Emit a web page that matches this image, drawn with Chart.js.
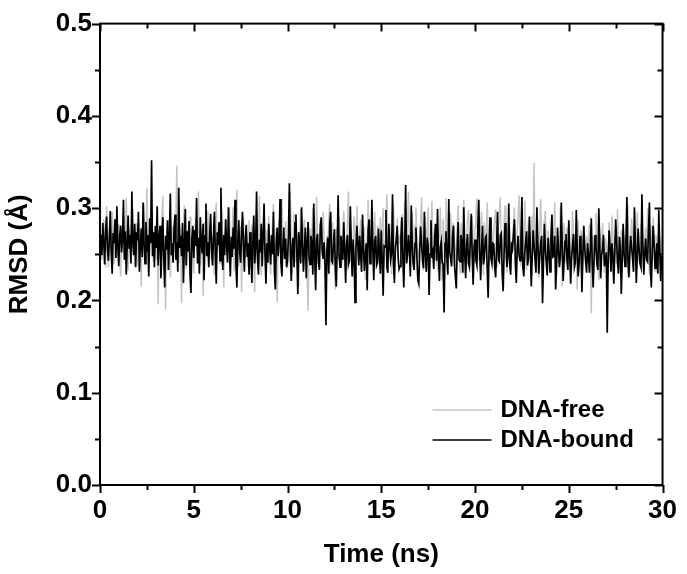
<!DOCTYPE html>
<html>
<head>
<meta charset="utf-8">
<script src="https://cdn.jsdelivr.net/npm/chart.js@4.4.1/dist/chart.umd.min.js"></script>
<style>
  body { margin: 0; background: #fff; }
  #wrap { width: 687px; height: 574px; }
</style>
</head>
<body>
<div id="wrap"><canvas id="myChart"></canvas></div>
<script>
// RMSD traces, one value every 0.05 ns (one row = 1 ns)
const timeStep = 0.05;

const dnaFree = [
  0.270,0.252,0.244,0.279,0.288,0.259,0.236,0.302,0.266,0.236,0.279,0.258,0.251,0.296,0.272,0.240,0.262,0.283,0.249,0.268,
  0.283,0.245,0.226,0.267,0.281,0.292,0.248,0.260,0.311,0.257,0.232,0.269,0.275,0.246,0.257,0.299,0.271,0.238,0.263,0.284,
  0.238,0.262,0.284,0.249,0.215,0.270,0.288,0.305,0.246,0.259,0.322,0.264,0.229,0.251,0.263,0.290,0.276,0.242,0.268,0.257,
  0.244,0.271,0.196,0.262,0.279,0.253,0.289,0.313,0.232,0.255,0.190,0.268,0.277,0.287,0.245,0.225,0.262,0.280,0.251,0.270,
  0.262,0.296,0.346,0.259,0.240,0.281,0.265,0.197,0.266,0.284,0.303,0.248,0.234,0.276,0.269,0.252,0.291,0.238,0.272,0.260,
  0.229,0.266,0.289,0.258,0.271,0.318,0.249,0.238,0.274,0.262,0.205,0.285,0.276,0.249,0.258,0.297,0.265,0.243,0.281,0.256,
  0.270,0.246,0.227,0.283,0.306,0.251,0.262,0.282,0.240,0.271,0.297,0.255,0.214,0.265,0.279,0.288,0.249,0.262,0.301,0.244,
  0.244,0.275,0.301,0.232,0.258,0.273,0.320,0.253,0.237,0.262,0.281,0.209,0.268,0.290,0.253,0.246,0.277,0.262,0.236,0.287,
  0.235,0.271,0.282,0.260,0.243,0.209,0.266,0.296,0.246,0.258,0.313,0.262,0.227,0.250,0.271,0.284,0.250,0.241,0.276,0.263,
  0.292,0.255,0.228,0.262,0.283,0.305,0.243,0.252,0.277,0.198,0.264,0.286,0.255,0.240,0.310,0.271,0.249,0.262,0.286,0.238,
  0.236,0.264,0.281,0.318,0.259,0.229,0.265,0.294,0.272,0.241,0.258,0.272,0.215,0.262,0.299,0.250,0.241,0.276,0.288,0.256,
  0.258,0.225,0.189,0.262,0.278,0.245,0.267,0.300,0.251,0.233,0.262,0.312,0.270,0.240,0.255,0.283,0.261,0.248,0.296,0.266,
  0.226,0.254,0.270,0.249,0.286,0.305,0.237,0.262,0.285,0.258,0.243,0.212,0.279,0.264,0.244,0.291,0.270,0.252,0.238,0.276,
  0.297,0.260,0.233,0.263,0.284,0.318,0.248,0.265,0.276,0.229,0.258,0.291,0.270,0.255,0.302,0.262,0.240,0.271,0.288,0.253,
  0.241,0.267,0.280,0.222,0.258,0.268,0.309,0.270,0.252,0.287,0.262,0.239,0.274,0.296,0.258,0.247,0.281,0.265,0.242,0.290,
  0.252,0.278,0.300,0.236,0.264,0.276,0.315,0.259,0.247,0.283,0.268,0.228,0.269,0.305,0.273,0.251,0.262,0.289,0.257,0.271,
  0.262,0.284,0.293,0.240,0.270,0.307,0.255,0.262,0.282,0.318,0.259,0.238,0.273,0.296,0.268,0.250,0.281,0.301,0.263,0.247,
  0.247,0.270,0.286,0.312,0.262,0.232,0.275,0.290,0.258,0.268,0.301,0.243,0.262,0.279,0.308,0.262,0.251,0.283,0.270,0.241,
  0.236,0.265,0.269,0.301,0.254,0.222,0.288,0.270,0.254,0.311,0.276,0.240,0.262,0.276,0.295,0.258,0.249,0.284,0.266,0.238,
  0.257,0.279,0.303,0.262,0.230,0.284,0.270,0.262,0.309,0.251,0.238,0.272,0.288,0.298,0.262,0.246,0.276,0.291,0.259,0.240,
  0.280,0.295,0.311,0.262,0.243,0.268,0.282,0.296,0.254,0.227,0.285,0.270,0.258,0.306,0.276,0.239,0.262,0.289,0.271,0.248,
  0.274,0.288,0.299,0.254,0.236,0.281,0.296,0.312,0.262,0.248,0.265,0.284,0.303,0.257,0.230,0.270,0.289,0.276,0.251,0.262,
  0.259,0.283,0.301,0.265,0.242,0.277,0.294,0.314,0.258,0.237,0.283,0.270,0.256,0.308,0.279,0.233,0.262,0.286,0.270,0.251,
  0.270,0.292,0.262,0.349,0.245,0.266,0.288,0.258,0.225,0.279,0.310,0.270,0.241,0.266,0.288,0.297,0.259,0.240,0.276,0.262,
  0.236,0.268,0.292,0.258,0.276,0.306,0.254,0.229,0.275,0.262,0.247,0.301,0.270,0.215,0.268,0.284,0.253,0.240,0.279,0.263,
  0.284,0.257,0.232,0.262,0.297,0.270,0.243,0.271,0.258,0.212,0.287,0.262,0.250,0.276,0.266,0.241,0.281,0.254,0.237,0.270,
  0.241,0.268,0.283,0.258,0.186,0.262,0.270,0.236,0.258,0.295,0.251,0.240,0.222,0.277,0.262,0.249,0.284,0.259,0.230,0.268,
  0.260,0.243,0.228,0.285,0.262,0.246,0.292,0.270,0.219,0.268,0.254,0.240,0.299,0.262,0.234,0.257,0.276,0.248,0.266,0.251,
  0.271,0.258,0.247,0.303,0.262,0.226,0.264,0.289,0.270,0.238,0.276,0.262,0.254,0.296,0.268,0.241,0.257,0.283,0.249,0.262,
  0.236,0.265,0.279,0.254,0.300,0.262,0.227,0.268,0.281,0.243,0.290,0.258,0.232,0.271,0.262,0.249,0.276,0.255,0.240,0.268
];

const dnaBound = [
  0.258,0.271,0.249,0.284,0.262,0.239,0.276,0.291,0.255,0.243,0.268,0.297,0.251,0.229,0.273,0.262,0.288,0.246,0.302,0.259,
  0.237,0.270,0.281,0.252,0.266,0.309,0.244,0.275,0.228,0.261,0.292,0.256,0.271,0.240,0.318,0.263,0.249,0.283,0.236,0.274,
  0.265,0.296,0.231,0.259,0.278,0.247,0.306,0.262,0.240,0.285,0.253,0.271,0.226,0.289,0.262,0.352,0.248,0.274,0.236,0.281,
  0.257,0.302,0.238,0.266,0.281,0.224,0.259,0.290,0.247,0.214,0.270,0.255,0.287,0.233,0.268,0.316,0.249,0.262,0.241,0.279,
  0.293,0.244,0.263,0.231,0.322,0.257,0.270,0.248,0.284,0.219,0.262,0.299,0.238,0.275,0.253,0.286,0.229,0.208,0.267,0.281,
  0.246,0.276,0.259,0.311,0.240,0.268,0.229,0.290,0.262,0.251,0.283,0.222,0.270,0.305,0.248,0.263,0.236,0.273,0.294,0.255,
  0.238,0.267,0.296,0.251,0.218,0.274,0.260,0.285,0.243,0.322,0.256,0.233,0.271,0.249,0.288,0.262,0.241,0.301,0.257,0.226,
  0.269,0.247,0.279,0.256,0.309,0.238,0.214,0.265,0.287,0.252,0.241,0.274,0.296,0.259,0.231,0.268,0.282,0.247,0.262,0.228,
  0.274,0.251,0.219,0.263,0.292,0.240,0.257,0.318,0.245,0.228,0.266,0.252,0.283,0.237,0.270,0.305,0.249,0.218,0.262,0.241,
  0.283,0.256,0.239,0.271,0.250,0.296,0.233,0.212,0.261,0.279,0.248,0.264,0.310,0.241,0.226,0.258,0.279,0.245,0.267,0.236,
  0.243,0.271,0.327,0.252,0.221,0.260,0.268,0.236,0.284,0.293,0.249,0.207,0.274,0.258,0.240,0.301,0.262,0.231,0.255,0.279,
  0.224,0.262,0.285,0.247,0.239,0.270,0.262,0.228,0.305,0.251,0.211,0.266,0.272,0.240,0.233,0.281,0.290,0.254,0.245,0.263,
  0.238,0.173,0.255,0.268,0.229,0.281,0.296,0.243,0.241,0.262,0.277,0.236,0.215,0.258,0.314,0.249,0.236,0.270,0.260,0.244,
  0.285,0.254,0.219,0.262,0.271,0.239,0.243,0.302,0.258,0.226,0.266,0.247,0.198,0.255,0.281,0.262,0.238,0.270,0.249,0.231,
  0.293,0.258,0.232,0.249,0.262,0.211,0.276,0.288,0.240,0.247,0.309,0.256,0.222,0.264,0.270,0.238,0.241,0.278,0.251,0.229,
  0.276,0.244,0.205,0.259,0.258,0.298,0.236,0.230,0.283,0.262,0.244,0.251,0.315,0.240,0.219,0.257,0.265,0.281,0.246,0.234,
  0.237,0.268,0.290,0.249,0.214,0.257,0.325,0.240,0.249,0.271,0.256,0.226,0.303,0.262,0.240,0.233,0.262,0.279,0.247,0.222,
  0.218,0.254,0.280,0.262,0.243,0.235,0.296,0.251,0.231,0.268,0.259,0.206,0.250,0.287,0.246,0.252,0.234,0.269,0.283,0.243,
  0.299,0.250,0.221,0.258,0.264,0.241,0.239,0.187,0.262,0.275,0.246,0.228,0.310,0.253,0.245,0.237,0.269,0.281,0.240,0.226,
  0.213,0.256,0.285,0.244,0.242,0.271,0.263,0.230,0.301,0.252,0.224,0.259,0.272,0.240,0.236,0.267,0.294,0.248,0.217,0.258,
  0.266,0.243,0.238,0.279,0.309,0.251,0.222,0.257,0.281,0.239,0.247,0.268,0.270,0.233,0.203,0.255,0.290,0.246,0.240,0.262,
  0.261,0.236,0.225,0.258,0.296,0.244,0.242,0.271,0.273,0.229,0.210,0.252,0.284,0.262,0.236,0.248,0.305,0.240,0.228,0.263,
  0.257,0.272,0.288,0.241,0.219,0.256,0.270,0.249,0.243,0.268,0.312,0.237,0.226,0.251,0.264,0.275,0.238,0.246,0.291,0.255,
  0.215,0.248,0.276,0.259,0.244,0.230,0.301,0.262,0.229,0.247,0.262,0.270,0.197,0.241,0.283,0.256,0.240,0.227,0.268,0.252,
  0.231,0.266,0.293,0.247,0.248,0.270,0.212,0.239,0.279,0.255,0.236,0.248,0.306,0.260,0.221,0.243,0.264,0.272,0.245,0.233,
  0.287,0.250,0.218,0.246,0.259,0.272,0.236,0.241,0.298,0.254,0.226,0.239,0.270,0.262,0.209,0.248,0.281,0.257,0.243,0.230,
  0.262,0.249,0.230,0.257,0.289,0.240,0.214,0.246,0.271,0.258,0.240,0.233,0.300,0.262,0.224,0.249,0.256,0.271,0.237,0.244,
  0.252,0.165,0.244,0.276,0.258,0.231,0.262,0.249,0.218,0.251,0.288,0.266,0.241,0.229,0.269,0.257,0.207,0.244,0.283,0.250,
  0.237,0.264,0.312,0.246,0.225,0.251,0.270,0.258,0.246,0.231,0.301,0.263,0.219,0.248,0.278,0.255,0.240,0.236,0.315,0.259,
  0.228,0.251,0.267,0.244,0.242,0.276,0.306,0.238,0.214,0.253,0.281,0.262,0.235,0.247,0.262,0.229,0.298,0.256,0.221,0.248
];

const xTicks = [0, 5, 10, 15, 20, 25, 30];
const yTicks = [0.0, 0.1, 0.2, 0.3, 0.4, 0.5];

const toPoints = (arr) => arr.map((v, i) => ({ x: +(i * timeStep).toFixed(2), y: v }));

const FONT = "'Liberation Sans', Arial, sans-serif";

// frame + major/minor ticks like the original plot
const framePlugin = {
  id: "frame",
  afterDraw(chart) {
    const { ctx, chartArea: a, scales } = chart;
    ctx.save();
    ctx.strokeStyle = "#000";
    ctx.lineWidth = 2;
    ctx.strokeRect(a.left, a.top, a.right - a.left, a.bottom - a.top);
    ctx.beginPath();
    for (let i = 0; i <= 10; i++) {
      const v = i * 0.05;
      const y = Math.round(scales.y.getPixelForValue(v)) + 0.5;
      const len = i % 2 === 0 ? 8 : 5;
      ctx.moveTo(a.left - len, y);
      ctx.lineTo(a.left, y);
      ctx.moveTo(a.right, y);
      ctx.lineTo(a.right - len, y);
    }
    for (let i = 0; i <= 12; i++) {
      const v = i * 2.5;
      const x = Math.round(scales.x.getPixelForValue(v)) + 0.5;
      const len = i % 2 === 0 ? 8 : 5;
      ctx.moveTo(x, a.bottom);
      ctx.lineTo(x, a.bottom + len);
      ctx.moveTo(x, a.top);
      ctx.lineTo(x, a.top + len);
    }
    ctx.stroke();

    // legend inside the plot, bottom right
    const items = [chart.data.datasets[1], chart.data.datasets[0]];
    ctx.font = "bold 24px " + FONT;
    ctx.textBaseline = "middle";
    ctx.fillStyle = "#000";
    items.forEach((ds, k) => {
      const y = a.bottom - 75 + k * 30;
      ctx.strokeStyle = ds.borderColor;
      ctx.lineWidth = 1.5;
      ctx.beginPath();
      ctx.moveTo(a.right - 230, y);
      ctx.lineTo(a.right - 171, y);
      ctx.stroke();
      ctx.fillText(ds.label, a.right - 162, y);
    });
    ctx.restore();
  },
};

new Chart("myChart", {
  type: "line",
  data: {
    datasets: [
      {
        label: "DNA-bound",
        data: toPoints(dnaBound),
        borderColor: "#000000",
        borderWidth: 1.7,
        pointRadius: 0,
        fill: false,
      },
      {
        label: "DNA-free",
        data: toPoints(dnaFree),
        borderColor: "#c4c4c4",
        borderWidth: 1.5,
        pointRadius: 0,
        fill: false,
      },
    ],
  },
  options: {
    responsive: true,
    maintainAspectRatio: false,
    animation: false,
    layout: { padding: { top: 22, right: 20 } },
    plugins: {
      legend: { display: false },
      tooltip: { enabled: false },
    },
    scales: {
      x: {
        type: "linear",
        min: 0,
        max: 30,
        afterFit: (s) => { s.height = 89; },
        afterBuildTicks: (s) => { s.ticks = xTicks.map((v) => ({ value: v })); },
        grid: { display: false, drawTicks: false },
        border: { display: false },
        ticks: {
          padding: 10,
          color: "#000",
          font: { family: FONT, size: 26, weight: "bold" },
        },
        title: {
          display: true,
          text: "Time (ns)",
          color: "#000",
          padding: { top: 6 },
          font: { family: FONT, size: 26, weight: "bold" },
        },
      },
      y: {
        min: 0,
        max: 0.5,
        afterFit: (s) => { s.width = 100; },
        afterBuildTicks: (s) => { s.ticks = yTicks.map((v) => ({ value: v })); },
        grid: { display: false, drawTicks: false },
        border: { display: false },
        ticks: {
          padding: 8,
          color: "#000",
          callback: (v) => v.toFixed(1),
          font: { family: FONT, size: 26, weight: "bold" },
        },
        title: {
          display: true,
          text: "RMSD (Å)",
          color: "#000",
          padding: { bottom: 4 },
          font: { family: FONT, size: 26, weight: "bold" },
        },
      },
    },
  },
  plugins: [framePlugin],
});
</script>
</body>
</html>
